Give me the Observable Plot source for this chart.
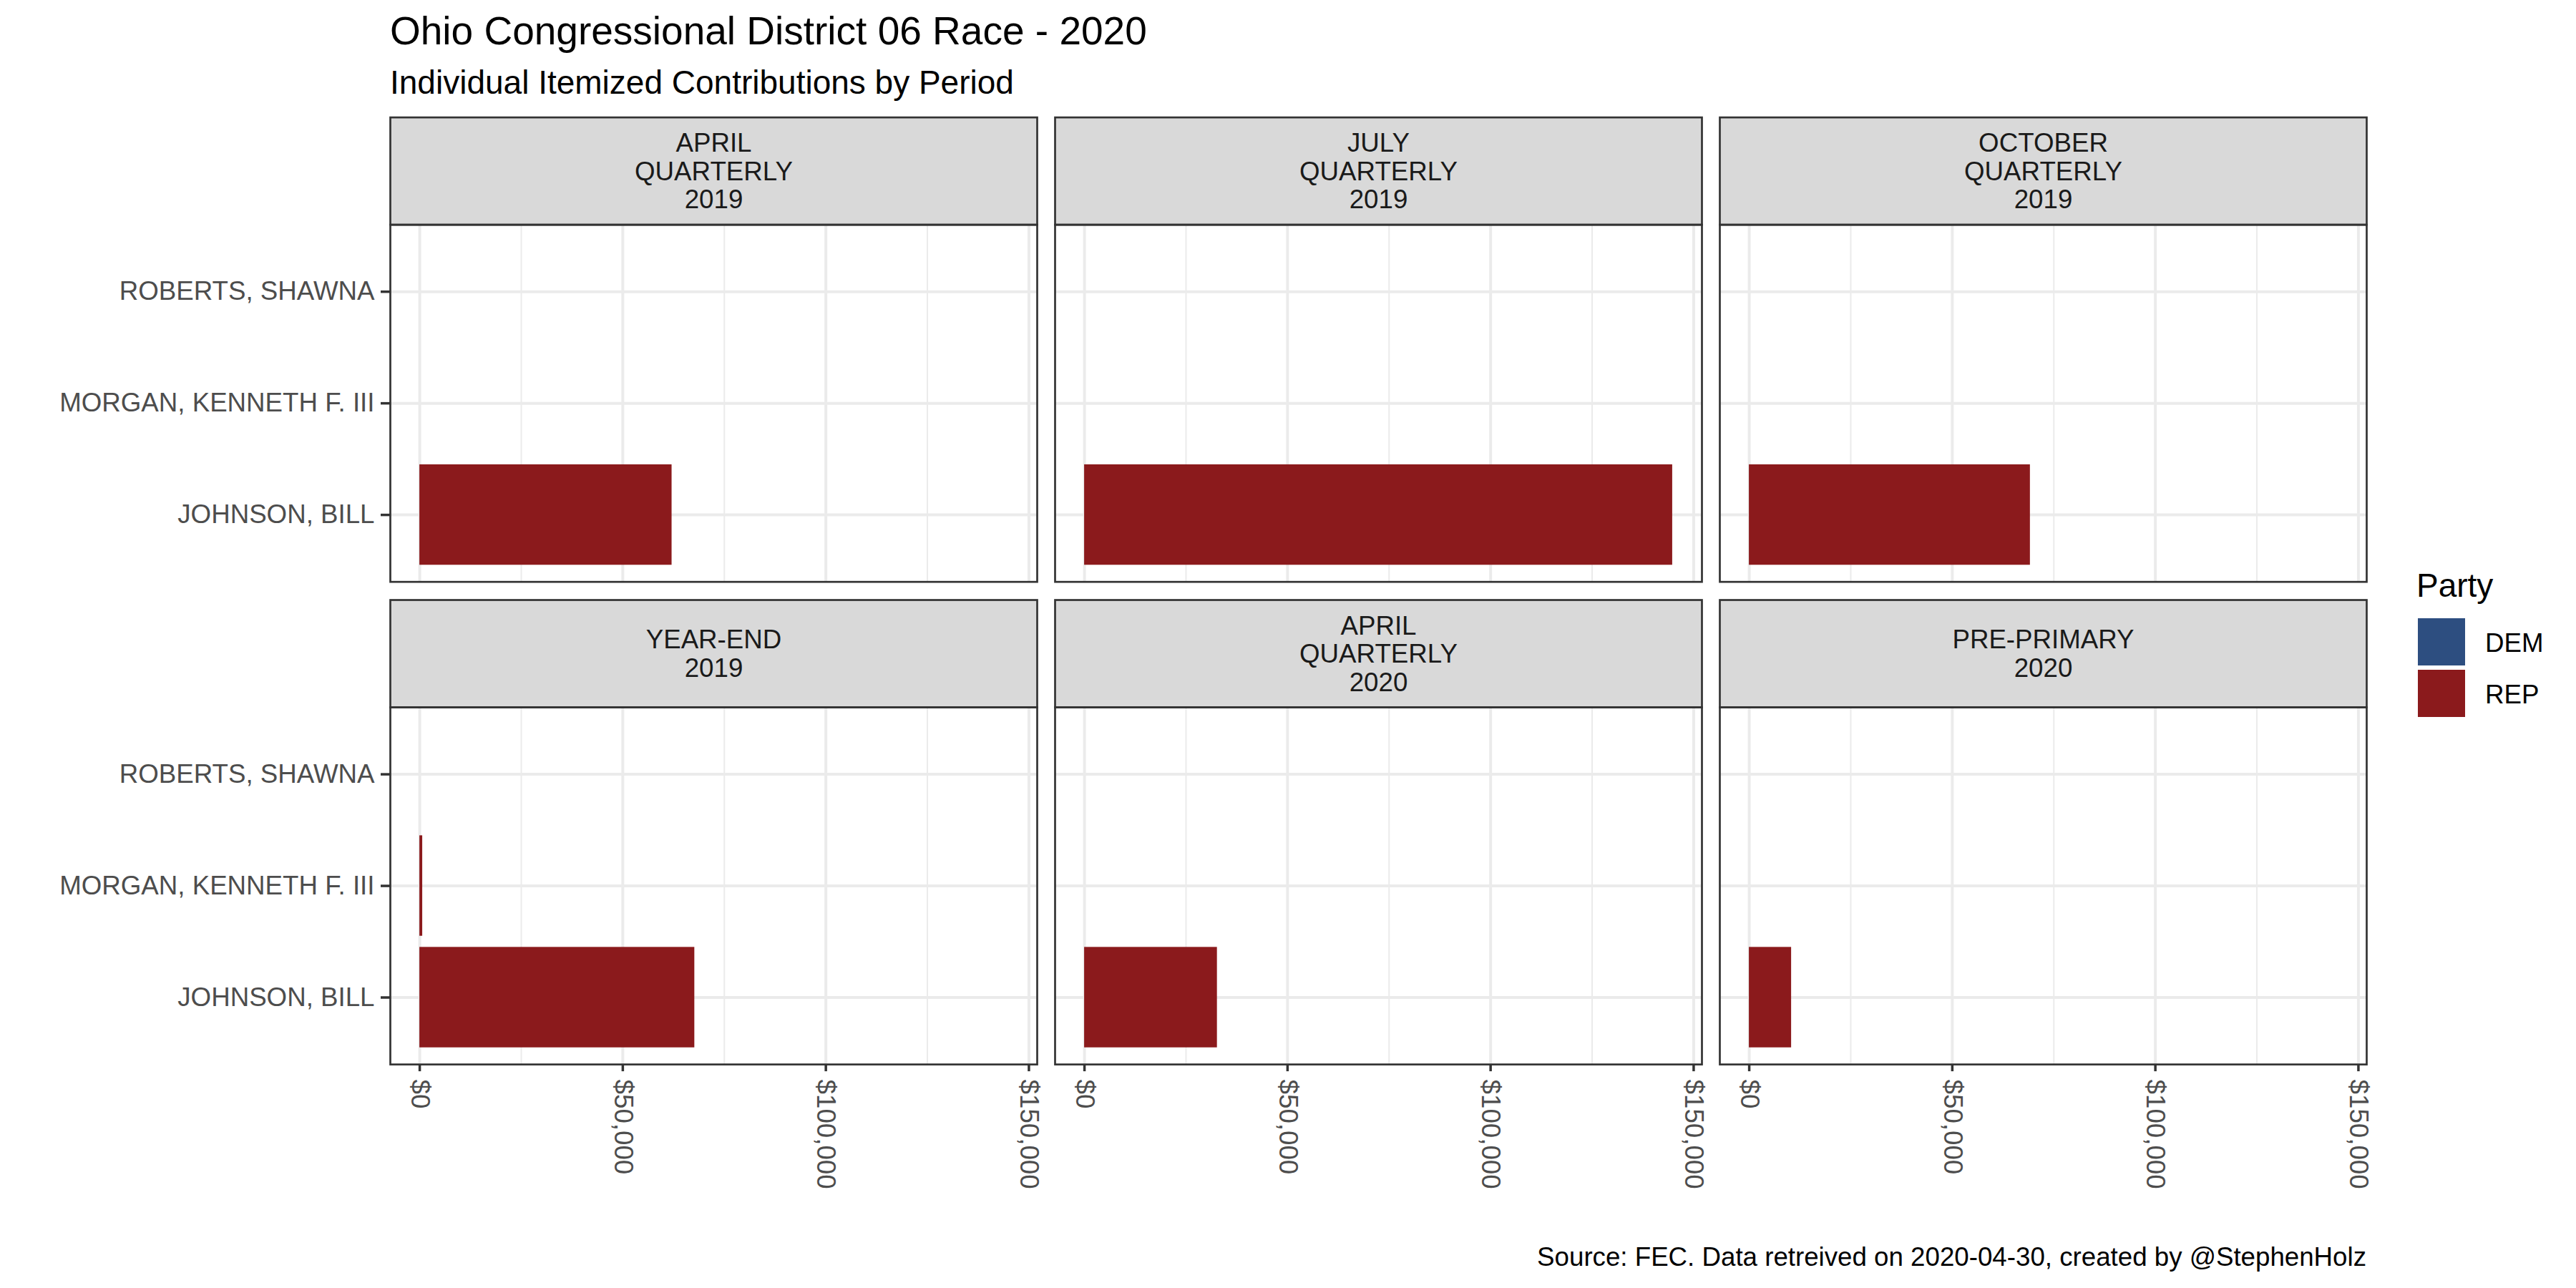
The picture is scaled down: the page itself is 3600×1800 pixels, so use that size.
<!DOCTYPE html>
<html><head><meta charset="utf-8">
<script src="https://cdn.jsdelivr.net/npm/d3@7"></script>
<script src="https://cdn.jsdelivr.net/npm/@observablehq/plot@0.6"></script>
<style>
html,body{margin:0;padding:0;background:#fff;}
#wrap{position:relative;width:3600px;height:1800px;overflow:hidden;font-family:"Liberation Sans",Arial,sans-serif;background:#fff;}
.t{position:absolute;white-space:pre;line-height:1;}
#chart{position:absolute;left:0;top:150px;}
</style></head><body><div id="wrap"><div id="chart"></div></div>
<script>
// ---- data ----
const periods = [
  "APRIL\nQUARTERLY\n2019",
  "JULY\nQUARTERLY\n2019",
  "OCTOBER\nQUARTERLY\n2019",
  "YEAR-END\n2019",
  "APRIL\nQUARTERLY\n2020",
  "PRE-PRIMARY\n2020"
];
const candidates = ["ROBERTS, SHAWNA", "MORGAN, KENNETH F. III", "JOHNSON, BILL"];
const candidateParty = ["DEM", "REP", "REP"];
const parties = ["DEM", "REP"];
const robertsAmounts = [0, 0, 0, 0, 0, 0];
const morganAmounts  = [0, 0, 0, 700, 0, 0];
const johnsonAmounts = [62100, 144800, 69200, 67700, 32700, 10400];
const majorBreaks = [0, 50000, 100000, 150000];
const minorBreaks = [25000, 75000, 125000];

const titleText = "Ohio Congressional District 06 Race - 2020";
const subtitleText = "Individual Itemized Contributions by Period";
const captionText = "Source: FEC. Data retreived on 2020-04-30, created by @StephenHolz";
const legendTitle = "Party";

// ---- build table ----
const amountsByCandidate = [robertsAmounts, morganAmounts, johnsonAmounts];
const rows = [];
candidates.forEach((c, ci) => {
  periods.forEach((p, pi) => {
    const a = amountsByCandidate[ci][pi];
    if (a > 0) rows.push({candidate: c, party: candidateParty[ci], period: p, amount: a, col: pi % 3, row: Math.floor(pi / 3)});
  });
});
const strips = periods.map((p, pi) => ({label: p, col: pi % 3, row: Math.floor(pi / 3)}));

// ---- layout ----
const W = 3600, H = 1560;
const mT = 163.6, mB = 222.9, mL = 545, mR = 293;
const fyPad = 0.26;
const facetAreaH = H - mT - mB;
const facetH = facetAreaH / (2 - fyPad) * (1 - fyPad);
const stripH = 150;
const xMax = d3.max(rows, d => d.amount);
const FONT = "'Liberation Sans', Arial, sans-serif";
const FS = 36.7;

const chart = Plot.plot({
  width: W, height: H,
  marginLeft: mL, marginRight: mR, marginTop: mT, marginBottom: mB,
  style: {fontFamily: FONT, fontSize: FS + "px", background: "transparent", overflow: "visible"},
  x: {domain: [-0.05 * xMax, 1.05 * xMax]},
  y: {domain: candidates, paddingInner: 0.1, paddingOuter: 0.15, round: false},
  fx: {domain: [0, 1, 2], paddingInner: 0.0269, paddingOuter: 0, axis: null, round: false},
  fy: {domain: [0, 1], paddingInner: fyPad, paddingOuter: 0, axis: null, round: false},
  color: {domain: parties, range: ["#2D4E80", "#8B1A1C"]},
  marks: [
    Plot.ruleX(minorBreaks, {stroke: "#EBEBEB", strokeWidth: 2}),
    Plot.ruleX(majorBreaks, {stroke: "#EBEBEB", strokeWidth: 4}),
    Plot.gridY({stroke: "#EBEBEB", strokeOpacity: 1, strokeWidth: 4}),
    Plot.barX(rows, {x: "amount", y: "candidate", fill: "party", fx: "col", fy: "row"}),
    Plot.frame({fill: "#D9D9D9", stroke: "#333333", strokeWidth: 2.7, insetBottom: facetH - stripH, dy: -stripH}),
    Plot.text(strips, {fx: "col", fy: "row", text: "label", frameAnchor: "top", dy: -stripH / 2, lineAnchor: "middle", lineHeight: 1.08, fontSize: FS, fill: "#1A1A1A"}),
    Plot.frame({stroke: "#333333", strokeWidth: 2.7}),
    Plot.axisY({tickSize: 13, tickPadding: 9, color: "#4D4D4D", stroke: "#333333", strokeWidth: 3.5, fontSize: FS, label: null}),
    Plot.axisX({ticks: majorBreaks, tickFormat: d3.format("$,.0f"), tickRotate: 90, tickSize: 10, tickPadding: 11, color: "#4D4D4D", stroke: "#333333", strokeWidth: 3.5, fontSize: FS, label: null})
  ]
});
document.getElementById("chart").appendChild(chart);

// ---- texts ----
const wrap = document.getElementById("wrap");
function addText(txt, size, baseline, left, opts = {}) {
  const d = document.createElement("div");
  d.className = "t";
  d.textContent = txt;
  d.style.fontSize = size + "px";
  d.style.top = (baseline - 0.8465 * size) + "px";
  if (opts.right != null) d.style.right = opts.right + "px"; else d.style.left = left + "px";
  d.style.color = opts.color || "#000";
  wrap.appendChild(d);
  return d;
}
addText(titleText, 55, 63, 545);
addText(subtitleText, 46, 131, 545);
addText(captionText, FS, 1770, 0, {right: 3600 - 3307});

// ---- legend from the chart's color scale ----
const cs = chart.scale("color");
addText(legendTitle, 46, 834, 3377);
cs.domain.forEach((p, i) => {
  const sw = document.createElement("div");
  sw.style.cssText = `position:absolute;left:3379px;top:${864 + i * 72}px;width:66px;height:66px;background:${cs.range[i]};`;
  wrap.appendChild(sw);
  addText(p, FS, 912 + i * 72, 3473);
});
</script></body></html>
